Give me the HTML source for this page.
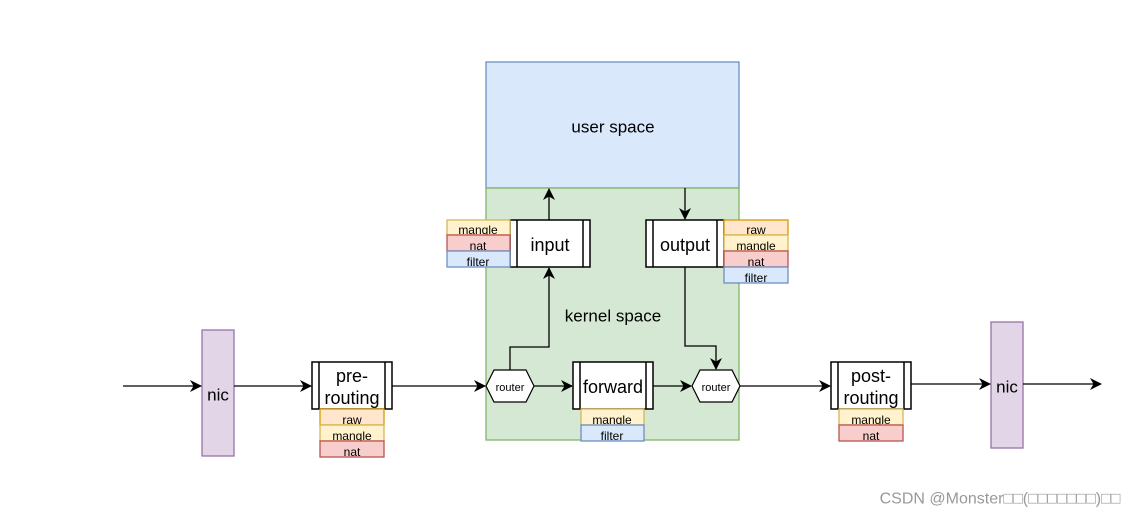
<!DOCTYPE html><html><head><style>body{margin:0;background:#fff}svg{display:block}text{font-family:"Liberation Sans","Noto Sans CJK SC",sans-serif;text-anchor:middle;dominant-baseline:central}</style></head><body>
<svg width="1130" height="520" viewBox="0 0 1130 520">
<defs><marker id="a" markerWidth="12" markerHeight="12" refX="11" refY="6" orient="auto" markerUnits="userSpaceOnUse"><path d="M0,0 L12,6 L0,12 L3.5,6z" fill="#000"/></marker></defs>
<rect x="486" y="62" width="253" height="126" fill="#dae8fc" stroke="#6c8ebf" stroke-width="1.3"/>
<text x="613" y="127" font-size="17">user space</text>
<rect x="486" y="188" width="253" height="252" fill="#d5e8d4" stroke="#82b366" stroke-width="1.3"/>
<text x="613" y="316" font-size="17">kernel space</text>
<rect x="202" y="330" width="32" height="126" fill="#e1d5e7" stroke="#9673a6" stroke-width="1.3"/>
<text x="218" y="395" font-size="17">nic</text>
<rect x="991" y="322" width="32" height="126" fill="#e1d5e7" stroke="#9673a6" stroke-width="1.3"/>
<text x="1007" y="387" font-size="17">nic</text>
<g fill="none" stroke="#000" stroke-width="1.3" marker-end="url(#a)">
<path d="M123,386H201"/><path d="M234,386H311"/><path d="M392,386H485"/><path d="M534,386H572"/><path d="M653,386H691"/><path d="M739,386H830"/><path d="M911,384H990"/><path d="M1023,384H1101"/>
<path d="M510,370V347H549V268"/><path d="M549,220V189"/><path d="M685,188V219"/><path d="M685,267V346H716V369"/>
</g>
<g stroke="#000" stroke-width="1.5" fill="#fff">
<rect x="510" y="220" width="80" height="47"/><path d="M517,220V267M583,220V267"/>
<rect x="646" y="220" width="78" height="47"/><path d="M653,220V267M717,220V267"/>
<rect x="573" y="362" width="80" height="47"/><path d="M580,362V409M646,362V409"/>
<rect x="312" y="362" width="80" height="47"/><path d="M319,362V409M385,362V409"/>
<rect x="831" y="362" width="80" height="47"/><path d="M838,362V409M904,362V409"/>
</g>
<g stroke="#000" stroke-width="1.2" fill="#fff">
<path d="M494,370H526L534,386L526,402H494L486,386z"/><path d="M700,370H732L740,386L732,402H700L692,386z"/>
</g>
<g font-size="18"><text x="550" y="245">input</text><text x="685" y="245">output</text><text x="613" y="387">forward</text><text x="352" y="376">pre-</text><text x="352" y="398">routing</text><text x="871" y="376">post-</text><text x="871" y="398">routing</text></g>
<g font-size="11"><text x="510" y="388">router</text><text x="716" y="388">router</text></g>
<g font-size="12" stroke-width="1.3">
<rect x="447" y="220" width="63" height="15" fill="#fff2cc" stroke="#d6b656"/><text x="478" y="230">mangle</text>
<rect x="447" y="235" width="63" height="16" fill="#f8cecc" stroke="#b85450"/><text x="478" y="246">nat</text>
<rect x="447" y="251" width="63" height="16" fill="#dae8fc" stroke="#6c8ebf"/><text x="478" y="262">filter</text>
<rect x="724" y="220" width="64" height="15" fill="#ffe6cc" stroke="#d79b00"/><text x="756" y="230">raw</text>
<rect x="724" y="235" width="64" height="16" fill="#fff2cc" stroke="#d6b656"/><text x="756" y="246">mangle</text>
<rect x="724" y="251" width="64" height="16" fill="#f8cecc" stroke="#b85450"/><text x="756" y="262">nat</text>
<rect x="724" y="267" width="64" height="16" fill="#dae8fc" stroke="#6c8ebf"/><text x="756" y="278">filter</text>
<rect x="581" y="409" width="63" height="16" fill="#fff2cc" stroke="#d6b656"/><text x="612" y="420">mangle</text>
<rect x="581" y="425" width="63" height="16" fill="#dae8fc" stroke="#6c8ebf"/><text x="612" y="436">filter</text>
<rect x="320" y="409" width="64" height="16" fill="#ffe6cc" stroke="#d79b00"/><text x="352" y="420">raw</text>
<rect x="320" y="425" width="64" height="16" fill="#fff2cc" stroke="#d6b656"/><text x="352" y="436">mangle</text>
<rect x="320" y="441" width="64" height="16" fill="#f8cecc" stroke="#b85450"/><text x="352" y="452">nat</text>
<rect x="839" y="409" width="64" height="16" fill="#fff2cc" stroke="#d6b656"/><text x="871" y="420">mangle</text>
<rect x="839" y="425" width="64" height="16" fill="#f8cecc" stroke="#b85450"/><text x="871" y="436">nat</text>
</g>
<text x="1000" y="499" font-size="16" fill="#999">CSDN @Monster□□(□□□□□□□)□□</text>
</svg></body></html>
